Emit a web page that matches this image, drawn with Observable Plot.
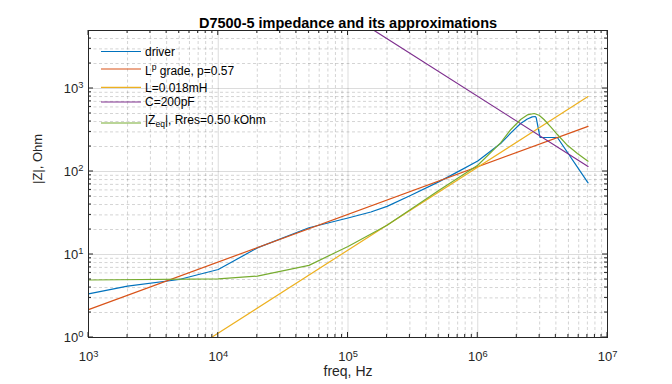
<!DOCTYPE html>
<html><head><meta charset="utf-8">
<script src="https://cdn.jsdelivr.net/npm/d3@7"></script>
<script src="https://cdn.jsdelivr.net/npm/@observablehq/plot@0.6"></script>
<style>
body{margin:0;background:#fff;}
#wrap{position:relative;width:672px;height:384px;}
</style></head><body><div id="wrap"></div>
<script>
const title = "D7500-5 impedance and its approximations";
const xLabel = "freq, Hz";
const yLabel = "|Z|, Ohm";
const xTicks = [1e3, 1e4, 1e5, 1e6, 1e7];
const yTicks = [1, 10, 100, 1000];
const xDomain = [1e3, 1e7];
const yDomain = [1, 5000];

const driverF = [1e3, 2e3, 5e3, 1e4, 2e4, 5e4, 1e5, 1.5e5, 2e5, 3e5, 5e5, 7e5, 1e6, 1.5e6, 1.8e6, 2.14e6, 2.41e6, 2.63e6, 2.78e6, 2.82e6, 3.02e6, 4.11e6, 7.08e6];
const driverZ = [3.35, 4.15, 5.0, 6.6, 12, 21, 27.5, 32.5, 38, 51, 75, 99, 134, 217, 292, 379, 430, 455, 460, 447, 257, 257, 73];
const lpF = [1e3, 7.08e6];
const lpZ = [2.17, 350];
const indF = [8.85e3, 7.08e6];
const indZ = [1.0, 800];
const capF = [1.59e5, 7.08e6];
const capZ = [5000, 115];
const zeqF = [1e3, 1e4, 2e4, 5e4, 1e5, 2e5, 5e5, 1e6, 1.5e6, 1.8e6, 2.14e6, 2.41e6, 2.72e6, 2.97e6, 3.24e6, 3.65e6, 4.11e6, 4.91e6, 5.86e6, 7.08e6];
const zeqZ = [4.93, 5.08, 5.5, 7.4, 12.5, 22.5, 59, 119, 221, 321, 423, 481, 500, 477, 423, 345, 279, 207, 165, 133];

const seriesNames = ["driver", "L^{p} grade, p=0.57", "L=0.018mH", "C=200pF", "|Z_{eq}|, Rres=0.50 kOhm"];
const seriesColors = ["#0072BD", "#D95319", "#EDB120", "#7E2F8E", "#77AC30"];
const seriesF = [driverF, lpF, indF, capF, zeqF];
const seriesZ = [driverZ, lpZ, indZ, capZ, zeqZ];

const mult = [2, 3, 4, 5, 6, 7, 8, 9];
const xMinor = [1e3, 1e4, 1e5, 1e6].flatMap(d => mult.map(m => m * d));
const yMinor = [1, 10, 100].flatMap(d => mult.map(m => m * d)).concat([2000, 3000, 4000]);

const series = seriesF.map((fs, i) => fs.map((f, j) => ({f, z: seriesZ[i][j]})));
const FONT = '"Liberation Sans", Arial, Helvetica, sans-serif';

function tickMarks(index, scales, values, dims) {
  const {width, height, marginLeft, marginRight, marginTop, marginBottom} = dims;
  const x0 = marginLeft, x1 = width - marginRight, y0 = marginTop, y1 = height - marginBottom;
  const g = d3.create("svg:g").attr("stroke", "#262626").attr("stroke-width", 1).attr("fill", "none");
  const addX = (vals, len) => vals.forEach(v => {
    const x = scales.x(v);
    g.append("line").attr("x1", x).attr("x2", x).attr("y1", y1).attr("y2", y1 - len);
    g.append("line").attr("x1", x).attr("x2", x).attr("y1", y0).attr("y2", y0 + len);
  });
  const addY = (vals, len) => vals.forEach(v => {
    const y = scales.y(v);
    g.append("line").attr("y1", y).attr("y2", y).attr("x1", x0).attr("x2", x0 + len);
    g.append("line").attr("y1", y).attr("y2", y).attr("x1", x1).attr("x2", x1 - len);
  });
  addX(xTicks, 5); addX(xMinor, 3);
  addY(yTicks, 5); addY(yMinor, 3);
  return g.node();
}

// legend rows: offsets from the frame's top-left corner
const legendLineY = [21.5, 39, 57.3, 72, 93];
const legendTextY = [21.5, 40.5, 57.3, 72, 89.5];
function legendMark(index, scales, values, dims) {
  const x0 = dims.marginLeft, y0 = dims.marginTop;
  const g = d3.create("svg:g").attr("font-family", FONT).attr("font-size", 12).attr("text-anchor", "start");
  seriesNames.forEach((name, i) => {
    g.append("line").attr("x1", x0 + 13).attr("x2", x0 + 53)
      .attr("y1", y0 + legendLineY[i]).attr("y2", y0 + legendLineY[i])
      .attr("stroke", seriesColors[i]).attr("stroke-width", 1.2);
    const t = g.append("text").attr("x", x0 + 57).attr("y", y0 + legendTextY[i] + 4.3)
      .attr("fill", "#000").attr("text-anchor", "start");
    const parts = name.split(/(\^\{[^}]*\}|_\{[^}]*\})/).filter(s => s.length);
    let pending = 0;
    parts.forEach(p => {
      if (p.startsWith("^{")) {
        t.append("tspan").attr("dy", pending - 4.5).attr("font-size", 8.5).text(p.slice(2, -1));
        pending = 4.5;
      } else if (p.startsWith("_{")) {
        t.append("tspan").attr("dy", pending + 3.5).attr("font-size", 8.5).text(p.slice(2, -1));
        pending = -3.5;
      } else {
        t.append("tspan").attr("dy", pending).text(p);
        pending = 0;
      }
    });
  });
  return g.node();
}

const fmt = d => "10^" + Math.round(Math.log10(d));

const chart = Plot.plot({
  width: 672,
  height: 384,
  marginLeft: 88,
  marginRight: 65,
  marginTop: 30,
  marginBottom: 47,
  style: {fontFamily: FONT, color: "#262626", background: "white", overflow: "visible"},
  x: {type: "log", domain: xDomain, ticks: xTicks, tickFormat: fmt, tickSize: 0, tickPadding: 14, label: null},
  y: {type: "log", domain: yDomain, ticks: yTicks, tickFormat: fmt, tickSize: 0, tickPadding: 5, label: null},
  marks: [
    Plot.ruleX(xMinor, {stroke: "#262626", strokeOpacity: 0.2, strokeDasharray: "3,2.5"}),
    Plot.ruleY(yMinor, {stroke: "#262626", strokeOpacity: 0.2, strokeDasharray: "3,2.5"}),
    Plot.ruleX(xTicks, {stroke: "#262626", strokeOpacity: 0.16}),
    Plot.ruleY(yTicks, {stroke: "#262626", strokeOpacity: 0.16}),
    ...series.map((d, i) => Plot.line(d, {x: "f", y: "z", stroke: seriesColors[i], strokeWidth: 1.2, clip: true})),
    Plot.frame({stroke: "#262626", strokeWidth: 1}),
    tickMarks,
    legendMark,
    Plot.text([title], {frameAnchor: "top", dy: -13, fontWeight: "bold", fontSize: 14.5, fill: "#000"}),
    Plot.text([xLabel], {frameAnchor: "bottom", dy: 38, fontSize: 14, fill: "#262626"}),
    Plot.text([yLabel], {frameAnchor: "left", dx: -51, rotate: -90, fontSize: 13, fill: "#262626"})
  ]
});

chart.querySelectorAll("text").forEach(t => {
  const m = /^10\^(-?\d+)$/.exec(t.textContent);
  if (m) {
    while (t.firstChild) t.removeChild(t.firstChild);
    t.appendChild(document.createTextNode("10"));
    const ts = document.createElementNS("http://www.w3.org/2000/svg", "tspan");
    ts.setAttribute("dy", "-0.45em");
    ts.setAttribute("font-size", "0.72em");
    ts.textContent = m[1];
    t.appendChild(ts);
    t.setAttribute("font-size", "13");
  }
});

document.getElementById("wrap").appendChild(chart);
</script>
</body></html>
